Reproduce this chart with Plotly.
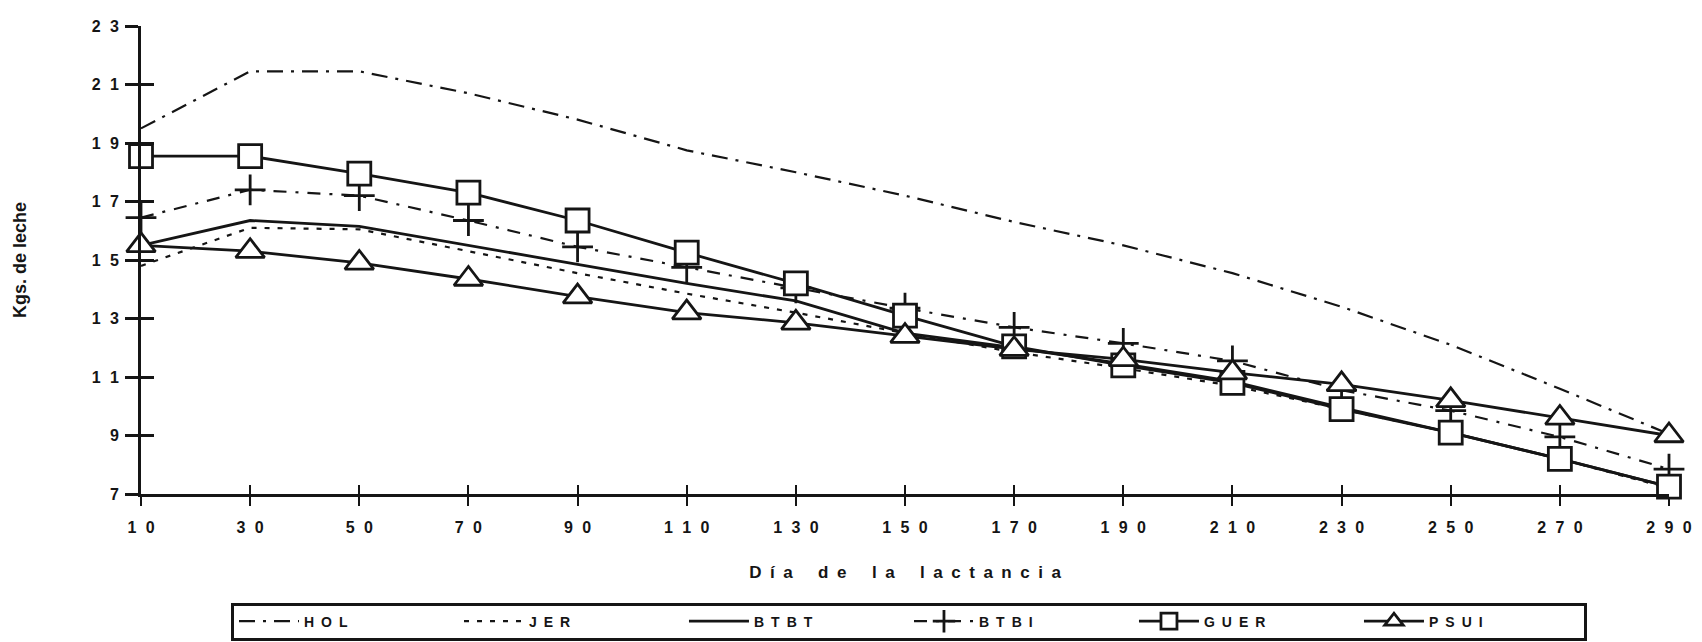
import plotly.graph_objects as go

days = [10, 30, 50, 70, 90, 110, 130, 150, 170, 190, 210, 230, 250, 270, 290]
HOL = [19.5, 21.45, 21.45, 20.7, 19.8, 18.75, 18.0, 17.2, 16.3, 15.5, 14.55, 13.4, 12.1, 10.6, 9.05]
JER = [14.8, 16.1, 16.05, 15.3, 14.55, 13.85, 13.2, 12.5, 11.85, 11.3, 10.7, 9.9, 9.1, 8.2, 7.2]
BTBT = [15.5, 16.35, 16.15, 15.5, 14.85, 14.2, 13.6, 12.5, 12.0, 11.45, 10.85, 9.95, 9.1, 8.2, 7.25]
BTBI = [16.45, 17.4, 17.2, 16.35, 15.45, 14.75, 14.05, 13.35, 12.7, 12.15, 11.55, 10.55, 9.85, 8.95, 7.85]
GUER = [18.55, 18.55, 17.95, 17.3, 16.35, 15.25, 14.2, 13.1, 12.05, 11.4, 10.8, 9.9, 9.1, 8.2, 7.25]
PSUI = [15.5, 15.3, 14.9, 14.35, 13.75, 13.2, 12.85, 12.4, 11.95, 11.6, 11.15, 10.75, 10.2, 9.6, 9.0]

y_ticks = [7, 9, 11, 13, 15, 17, 19, 21, 23]
x_ticks = days
x_title = "Día de la lactancia"
y_title = "Kgs. de leche"


def spaced(s, sep="\u2002"):
    return sep.join(s)


def spaced_title(s):
    return "\u2003\u2002".join("\u2002".join(w) for w in s.split(" "))


INK = "#151515"
FONT = "Liberation Sans"
NUMSEP = "\u2002\u200a"

fig = go.Figure()

fig.add_trace(go.Scatter(x=days, y=HOL, name=spaced("HOL"), mode="lines",
                         line=dict(color=INK, width=2.2, dash="16px,8px,3px,8px")))
fig.add_trace(go.Scatter(x=days, y=JER, name=spaced("JER"), mode="lines",
                         line=dict(color=INK, width=2.2, dash="5px,8px")))
fig.add_trace(go.Scatter(x=days, y=BTBT, name=spaced("BTBT"), mode="lines",
                         line=dict(color=INK, width=2.8)))
fig.add_trace(go.Scatter(x=days, y=BTBI, name=spaced("BTBI"), mode="lines+markers",
                         line=dict(color=INK, width=2.2, dash="13px,9px,3px,9px"),
                         marker=dict(symbol="cross-thin", size=22, color=INK,
                                     line=dict(color=INK, width=2.8))))
fig.add_trace(go.Scatter(x=days, y=GUER, name=spaced("GUER"), mode="lines+markers",
                         line=dict(color=INK, width=2.8),
                         marker=dict(symbol="square", size=23, color="white",
                                     line=dict(color=INK, width=2.8))))
fig.add_trace(go.Scatter(x=days, y=PSUI, name=spaced("PSUI"), mode="lines+markers",
                         line=dict(color=INK, width=2.8),
                         marker=dict(symbol="triangle-up", size=25, color="white",
                                     line=dict(color=INK, width=2.8))))
# empty trace to activate the overlay axes (inner half of crossing ticks)
fig.add_trace(go.Scatter(x=[], y=[], xaxis="x2", yaxis="y2", showlegend=False,
                         hoverinfo="skip"))

for tr in fig.data:
    tr.cliponaxis = False

tickfont = dict(family=FONT, size=16, color=INK, weight="bold")

fig.update_layout(
    width=1702, height=642,
    margin=dict(l=133, r=41, t=10, b=138),
    paper_bgcolor="white", plot_bgcolor="white",
    showlegend=True,
    xaxis=dict(range=[10, 290], tickvals=x_ticks,
               ticktext=[spaced(str(v), NUMSEP) for v in x_ticks],
               ticks="outside", ticklen=9, tickwidth=2, tickcolor=INK,
               showline=True, linecolor=INK, linewidth=2.8, showgrid=False,
               zeroline=False, tickfont=tickfont, ticklabelstandoff=8,
               title=dict(text=spaced_title(x_title), standoff=32,
                          font=dict(family=FONT, size=17, color=INK, weight="bold"))),
    yaxis=dict(range=[7, 23], tickvals=y_ticks,
               ticktext=[spaced(str(v), NUMSEP) for v in y_ticks],
               ticks="outside", ticklen=13, tickwidth=2.8, tickcolor=INK,
               showline=True, linecolor=INK, linewidth=2.8, showgrid=False,
               zeroline=False, tickfont=tickfont, ticklabelstandoff=3,
               title=dict(text=y_title, standoff=61,
                          font=dict(family=FONT, size=18, color=INK, weight="bold"))),
    xaxis2=dict(overlaying="x", range=[10, 290], tickvals=x_ticks,
                ticks="inside", ticklen=9, tickwidth=2, tickcolor=INK,
                showticklabels=False, showline=False, showgrid=False, zeroline=False,
                side="bottom"),
    yaxis2=dict(overlaying="y", range=[7, 23], tickvals=y_ticks,
                ticks="inside", ticklen=13, tickwidth=2.8, tickcolor=INK,
                showticklabels=False, showline=False, showgrid=False, zeroline=False,
                side="left"),
    legend=dict(orientation="h", x=0.5026, xanchor="center", y=-0.232, yanchor="top",
                bordercolor=INK, borderwidth=3, bgcolor="white",
                entrywidth=150, entrywidthmode="pixels", itemwidth=60,
                font=dict(family=FONT, size=14, color=INK, weight="bold")),
)

fig.write_html("out.html")
